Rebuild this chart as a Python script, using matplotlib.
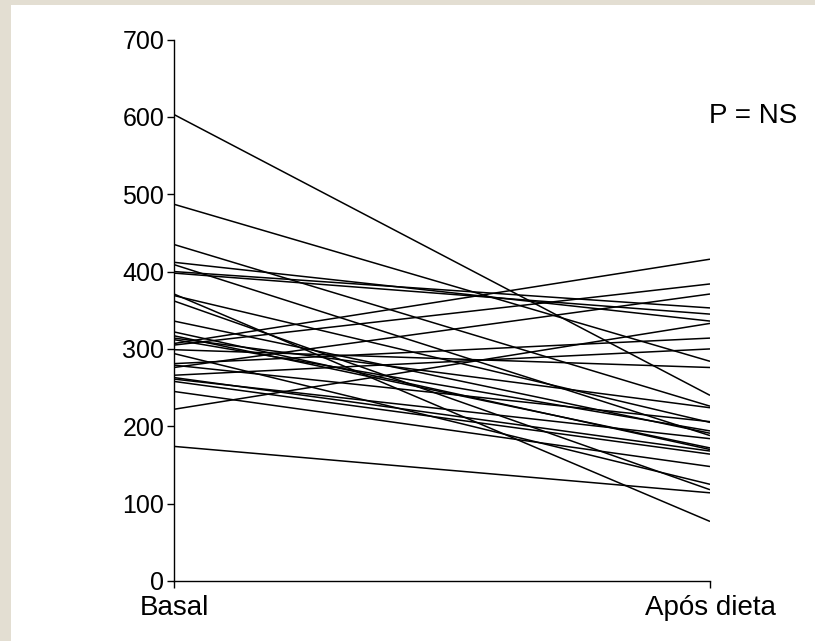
import matplotlib
matplotlib.use("Agg")
from matplotlib import pyplot as plt
from matplotlib.patches import Rectangle

plt.rcParams['font.family'] = ['Liberation Sans', 'DejaVu Sans']

# paired measurements: baseline and after diet
basal = [603, 487, 435, 412, 409, 400, 398, 371, 369, 362,
         336, 322, 317, 314, 312, 307, 305, 299, 294, 281,
         279, 276, 266, 263, 261, 258, 245, 222, 174]
apos_dieta = [240, 284, 226, 336, 188, 353, 345, 77, 205, 118,
              191, 170, 172, 224, 194, 416, 384, 276, 125, 314,
              206, 371, 300, 168, 184, 164, 148, 333, 114]
groups = ["Basal", "Após dieta"]
y_ticks = [0, 100, 200, 300, 400, 500, 600, 700]

fig = plt.figure(figsize=(8.15, 6.41), dpi=100, facecolor='#e3ded2')
# white panel over the beige frame
fig.patches.append(Rectangle((11 / 815, 0), 1, 1 - 5 / 641, transform=fig.transFigure,
                             facecolor='white', edgecolor='none', zorder=-10))

ax = fig.add_axes([174 / 815, 1 - 581 / 641, 536 / 815, 541.5 / 641])
ax.set_facecolor('none')
ax.set_zorder(5)

for b, a in zip(basal, apos_dieta):
    ax.plot([0, 1], [b, a], color='black', lw=1.1, solid_capstyle='butt')

ax.set_xlim(0, 1)
ax.set_ylim(0, 700)
ax.set_xticks([0, 1])
ax.set_xticklabels(groups)
ax.set_yticks(y_ticks)
ax.tick_params(axis='both', length=5, width=1.0, direction='out')
ax.tick_params(axis='y', labelsize=18, pad=2)
ax.tick_params(axis='x', labelsize=20, pad=5)
for side in ['top', 'right']:
    ax.spines[side].set_visible(False)
for side in ['left', 'bottom']:
    ax.spines[side].set_linewidth(1.0)

fig.text(797 / 815, 1 - 116 / 641, "P = NS", ha='right', va='center', fontsize=20)

fig.savefig("out.png", dpi=100, facecolor=fig.get_facecolor())
